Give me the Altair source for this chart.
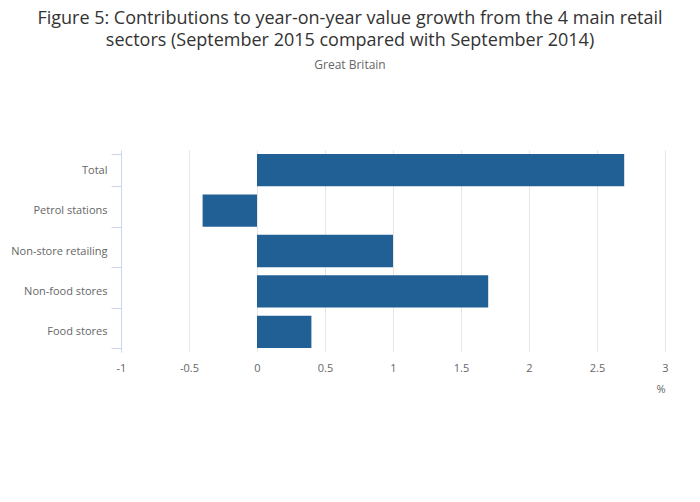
import altair as alt
import pandas as pd

categories = ["Total", "Petrol stations", "Non-store retailing", "Non-food stores", "Food stores"]
values = [2.7, -0.4, 1.0, 1.7, 0.4]

df = pd.DataFrame({"sector": categories, "value": values})

chart = alt.Chart(df).mark_bar(color="#206095").encode(
    x=alt.X("value:Q",
            scale=alt.Scale(domain=[-1, 3], nice=False, zero=False),
            axis=alt.Axis(values=[-1, -0.5, 0, 0.5, 1, 1.5, 2, 2.5, 3], title="%",
                          labelExpr="toString(datum.value)",
                          titleAnchor="end", titleAlign="right", titleFontWeight="normal",
                          titleFontSize=11, titleColor="#666666", titleFont="Open Sans",
                          titlePadding=10,
                          domain=False, ticks=False, grid=True, gridColor="#e6e6e6",
                          labelFont="Open Sans", labelFontSize=11, labelColor="#666666",
                          labelPadding=10, labelFlush=False)),
    y=alt.Y("sector:N", sort=categories,
            scale=alt.Scale(paddingInner=0.2, paddingOuter=0.1),
            axis=alt.Axis(title=None, tickBand="extent", domainColor="#ccd6eb", tickColor="#ccd6eb",
                          tickSize=10, labelFont="Open Sans", labelFontSize=11, labelColor="#666666",
                          labelPadding=4, grid=False)),
).properties(
    width=544, height=202,
    padding={"left": 113, "top": 142, "right": 27, "bottom": 80},
    autosize=alt.AutoSizeParams(type="none"),
    title=alt.TitleParams(
        text=["Figure 5: Contributions to year-on-year value growth from the 4 main retail",
              "sectors (September 2015 compared with September 2014)"],
        subtitle="Great Britain",
        font="Open Sans", fontSize=18, fontWeight="normal", color="#333333", lineHeight=22,
        subtitleFont="Open Sans", subtitleFontSize=12, subtitleColor="#666666", subtitlePadding=10,
        anchor="middle", dx=-43, offset=73,
    ),
).configure_view(stroke=None)

chart.save("out.html", embed_options={"renderer": "svg", "actions": False})
